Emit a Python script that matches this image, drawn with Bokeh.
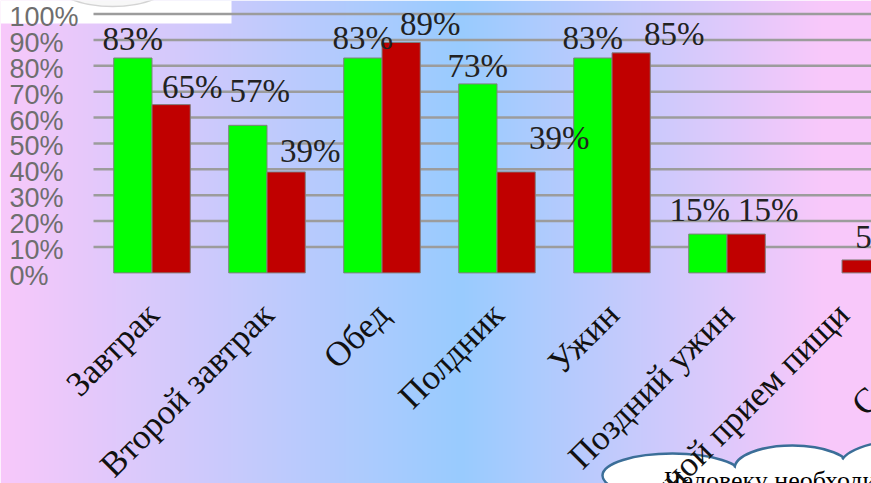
import numpy as np
from bokeh.plotting import figure
from bokeh.models import Range1d
from bokeh.core.properties import value
from bokeh.embed import file_html
from bokeh.resources import INLINE

# --- data ---------------------------------------------------------------
categories = ["Завтрак", "Второй завтрак", "Обед", "Полдник", "Ужин",
              "Поздний ужин", "Ночной прием пищи", "Сладости"]
series_green = [83, 57, 83, 73, 83, 15, 0]
series_red = [65, 39, 89, 39, 85, 15, 5]
tick_values = [0, 10, 20, 30, 40, 50, 60, 70, 80, 90, 100]
tick_labels = ["0%", "10%", "20%", "30%", "40%", "50%", "60%", "70%", "80%", "90%", "100%"]
note_text = "Человеку необходимо питаться 4-5 раз в день"

# --- layout -------------------------------------------------------------
W, H = 871, 483
GROUP0_PX, GROUP_STEP = 151.5, 115.0      # pixel centre of first group, spacing
ZERO_PX, PX_PER_PCT = 272.4, 2.589       # pixel of the 0% line, pixels per percent
BAR_W = 0.333

x0 = -GROUP0_PX / GROUP_STEP
x1 = (W - GROUP0_PX) / GROUP_STEP
y0 = -(H - ZERO_PX) / PX_PER_PCT
y1 = ZERO_PX / PX_PER_PCT


def px_x(px):
    return x0 + px / GROUP_STEP


def px_y(py):
    return y1 - py / PX_PER_PCT


p = figure(width=W, height=H, x_range=Range1d(x0, x1), y_range=Range1d(y0, y1),
           output_backend="svg", toolbar_location=None, min_border=0)
p.axis.visible = False
p.grid.visible = False
p.outline_line_color = None
p.background_fill_color = None
p.border_fill_color = None

# background: pink at both sides fading into light blue in the middle
blue = np.array([153, 204, 255], dtype=float)
pink = np.array([248, 200, 250], dtype=float)
cols = np.arange(W, dtype=float)
t = np.where(cols < 460, (460 - cols) / 460, (cols - 460) / 360)
t = np.clip(t, 0, 1)
row = blue[None, :] * (1 - t[:, None]) + pink[None, :] * t[:, None]
img = np.empty((H, W), dtype=np.uint32)
view = img.view(dtype=np.uint8).reshape((H, W, 4))
view[:, :, 0] = row[None, :, 0].astype(np.uint8)
view[:, :, 1] = row[None, :, 1].astype(np.uint8)
view[:, :, 2] = row[None, :, 2].astype(np.uint8)
view[:, :, 3] = 255
p.image_rgba(image=[img], x=x0, y=y0, dw=x1 - x0, dh=y1 - y0)

# white header box in the corner
p.quad(left=px_x(0), right=px_x(231), top=px_y(0), bottom=px_y(23),
       fill_color="white", line_color=None)
p.ellipse(x=px_x(112), y=px_y(-20), width=120 / GROUP_STEP, height=52 / PX_PER_PCT,
          fill_color="#f7f7f7", line_color="#d4d4d4", line_width=1.5)

# gridlines 10% .. 100%
grid_levels = tick_values[1:]
p.segment(x0=[px_x(93)] * len(grid_levels), x1=[x1] * len(grid_levels),
          y0=grid_levels, y1=grid_levels, line_color="#9c9c9c", line_width=2.5)

# value axis labels
p.text(x=[x0] * len(tick_values), y=tick_values, text=tick_labels,
       x_offset=9, y_offset=3, text_align="left", text_baseline="middle",
       text_font=value("Liberation Sans"), text_font_size="27px", text_color="#6e6e6e")

# bars (zero values leave no mark)
for vals, sign, color in ((series_green, -1, "#00ff00"), (series_red, 1, "#c00000")):
    xs = [i + sign * BAR_W / 2 for i, v in enumerate(vals) if v > 0]
    tops = [v for v in vals if v > 0]
    p.vbar(x=xs, top=tops, width=BAR_W, bottom=0,
           fill_color=color, line_color="#808080", line_width=1)

# value labels (pixel shifts from the top centre of each bar)
green_shift = [(0, -19), (12, -34), (0, -20), (0, -18), (0, -20), (-8, -24), None]
red_shift = [(21, -18), (24, -21), (29, -18), (43, -34), (43, -19), (22, -24), (16, -23)]
for vals, shifts, sign in ((series_green, green_shift, -1), (series_red, red_shift, 1)):
    for i, (v, s) in enumerate(zip(vals, shifts)):
        if s is None or v == 0:
            continue
        p.text(x=[i + sign * BAR_W / 2], y=[v], text=[f"{v}%"],
               x_offset=s[0], y_offset=s[1], text_align="center", text_baseline="middle",
               text_font=value("Liberation Serif"), text_font_size="33px",
               text_color="#222222")

# cloud callout at the bottom
bumps = [(672, 475, 140, 44), (792, 468, 116, 46), (905, 465, 130, 50)]
bx = [px_x(b[0]) for b in bumps]
by = [px_y(b[1]) for b in bumps]
p.ellipse(x=bx, y=by, width=[b[2] / GROUP_STEP for b in bumps],
          height=[b[3] / PX_PER_PCT for b in bumps],
          fill_color="white", line_color="#3b6e98", line_width=2.5)
p.ellipse(x=bx, y=by, width=[(b[2] - 5) / GROUP_STEP for b in bumps],
          height=[(b[3] - 5) / PX_PER_PCT for b in bumps],
          fill_color="white", line_color=None)
p.quad(left=px_x(614), right=x1, top=px_y(470), bottom=y0,
       fill_color="white", line_color=None)
p.text(x=[px_x(664)], y=[px_y(480)], text=[note_text], text_align="left",
       text_baseline="alphabetic", text_font=value("Liberation Serif"),
       text_font_size="26px", text_color="black")

# category labels, slanted; anchors kept inside the frame, shifted in pixels
cat_x, cat_dx = [], []
for i in range(len(categories)):
    centre_px = GROUP0_PX + i * GROUP_STEP
    anchor_px = min(centre_px, W - 10)
    cat_x.append(px_x(anchor_px))
    cat_dx.append(centre_px - anchor_px + 1)
p.text(x=cat_x, y=[0] * len(categories), text=categories,
       x_offset=cat_dx, y_offset=36, angle=np.pi / 4, text_align="right",
       text_baseline="middle", text_font=value("Liberation Serif"),
       text_font_size="35px", text_color="#111111")

open("out.html", "w").write(file_html(p, INLINE))
